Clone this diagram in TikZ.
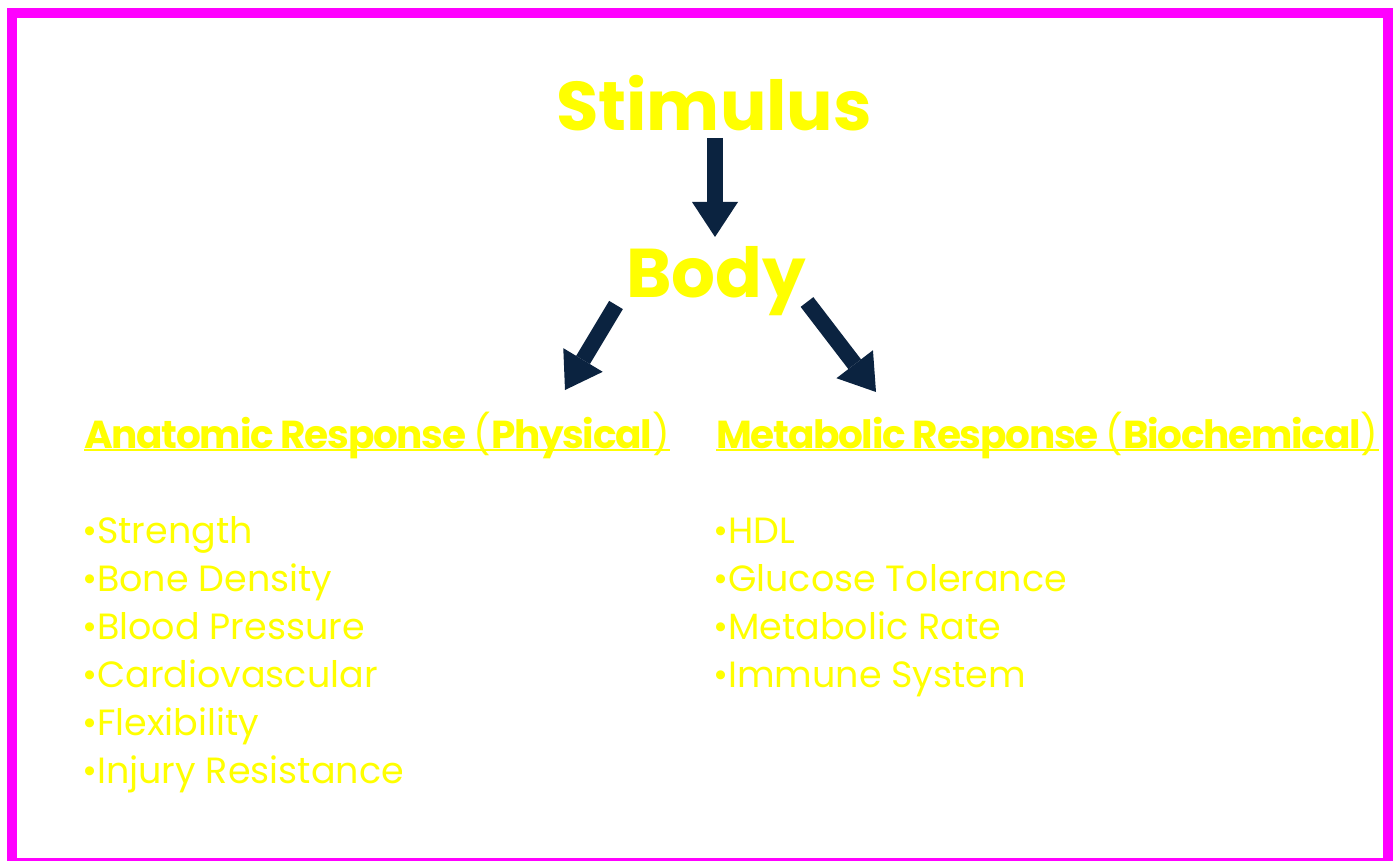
\documentclass[tikz,border=0pt]{standalone}
\usepackage{fontspec}
\setmainfont{Poppins}
\usetikzlibrary{arrows.meta}
\definecolor{frameMag}{HTML}{FF00FF}
\definecolor{txtYel}{HTML}{FFFF00}
\definecolor{arrNavy}{HTML}{0B2340}
\tikzset{
  titletext/.style={inner sep=0pt, text=txtYel, font=\fontsize{69}{84}\selectfont\bfseries},
  headtext/.style={inner sep=0pt, text=txtYel, font=\fontsize{39}{48}\selectfont\bfseries\addfontfeatures{LetterSpace=-3.3}, anchor=base west},
  itemtext/.style={inner sep=0pt, text=txtYel, font=\fontsize{36.5}{44}\selectfont, anchor=base west},
  ulineYel/.style={draw=txtYel, line width=2.5pt},
  blockarrow/.style={draw=arrNavy, line width=16pt, -{Triangle[width=46pt,length=35pt,line width=0pt]}}
}
\begin{document}
\begin{tikzpicture}[x=1pt,y=-1pt]
\useasboundingbox (0,0) rectangle (1393,861);
\clip (0,0) rectangle (1393,861);
\fill[white] (0,0) rectangle (1393,861);
\draw[frameMag, line width=10pt] (12,13) rectangle (1388,863);

\node[titletext, anchor=base] (stim) at (714,131) {Stimulus};
\node[titletext, anchor=base] (body) at (716,298) {Body};

\coordinate (a1s) at (715,138);
\coordinate (a1e) at (715,237);
\coordinate (a2s) at (616,305);
\coordinate (a2e) at (565,390);
\coordinate (a3s) at (807,302);
\coordinate (a3e) at (876,392);
\draw[blockarrow] (a1s) -- (a1e);
\draw[blockarrow] (a2s) -- (a2e);
\draw[blockarrow] (a3s) -- (a3e);

\node[headtext] (hl) at (84,448) {Anatomic Response {\mdseries(}Physical{\mdseries)}};
\node[headtext] (hr) at (716,448) {Metabolic Response {\mdseries(}Biochemical{\mdseries)}};
\draw[ulineYel] ([yshift=-2pt]hl.base west) -- ([yshift=-2pt]hl.base east);
\draw[ulineYel] ([yshift=-2pt]hr.base west) -- ([yshift=-2pt]hr.base east);

\foreach \t [count=\i] in {Strength,Bone Density,Blood Pressure,Cardiovascular,Flexibility,Injury Resistance}
  \node[itemtext] (L\i) at (82,{543+48*(\i-1)}) {•\t};
\foreach \t [count=\i] in {HDL,Glucose Tolerance,Metabolic Rate,Immune System}
  \node[itemtext] (R\i) at (713,{543+48*(\i-1)}) {•\t};
\end{tikzpicture}
\end{document}
